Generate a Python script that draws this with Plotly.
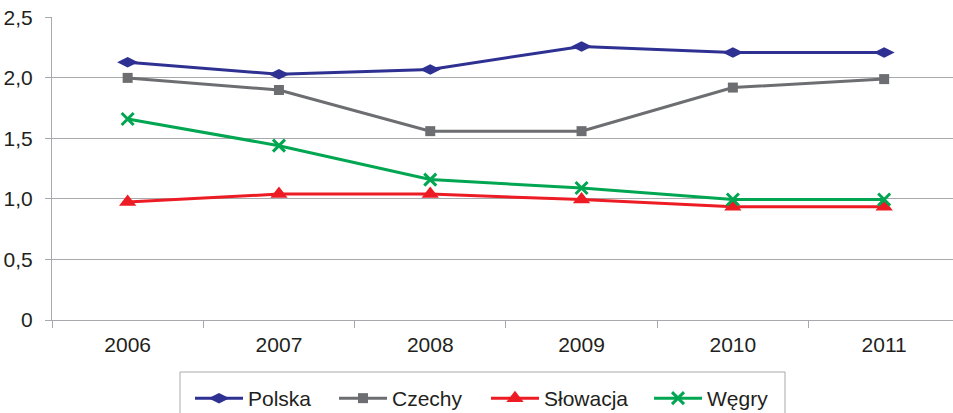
import plotly.graph_objects as go

years = ["2006", "2007", "2008", "2009", "2010", "2011"]
polska = [2.13, 2.03, 2.07, 2.26, 2.21, 2.21]
czechy = [2.00, 1.90, 1.56, 1.56, 1.92, 1.99]
slowacja = [0.975, 1.04, 1.04, 0.995, 0.935, 0.935]
wegry = [1.66, 1.44, 1.16, 1.09, 0.995, 0.995]

ytick_vals = [0, 0.5, 1.0, 1.5, 2.0, 2.5]
ytick_text = ["0", "0,5", "1,0", "1,5", "2,0", "2,5"]

series = [
    ("Polska", polska, "#2E3192", "diamond-wide", 15, None),
    ("Czechy", czechy, "#6D6E71", "square", 10, None),
    ("Słowacja", slowacja, "#ED1C24", "triangle-up", 15, None),
    ("Węgry", wegry, "#00A651", "x-thin", 12, 3),
]

# layout geometry (pixels)
W, H = 953, 413
ML, MT, MB = 52, 17, 93
PW, PH = W - ML, H - MT - MB
def px_x(p):
    return (p - ML) / PW
def px_y(p):
    return (H - MB - p) / PH

legend_px = [190, 334, 486, 649]
legend_names = ["legend", "legend2", "legend3", "legend4"]

fig = go.Figure()
for (name, vals, color, sym, size, lw), lg in zip(series, legend_names):
    marker = dict(symbol=sym, size=size, color=color)
    if lw:
        marker["line"] = dict(width=lw, color=color)
    fig.add_trace(go.Scatter(
        x=years, y=vals, name=name, mode="lines+markers", legend=lg,
        line=dict(color=color, width=3), marker=marker,
    ))

legend_common = dict(
    orientation="h", yanchor="top", y=px_y(378), xanchor="left",
    borderwidth=0, bgcolor="rgba(0,0,0,0)", font=dict(size=21), itemwidth=48,
)
layout_legends = {lg: dict(legend_common, x=px_x(p)) for lg, p in zip(legend_names, legend_px)}

fig.update_layout(
    width=W, height=H,
    margin=dict(l=ML, r=0, t=MT, b=MB, autoexpand=False),
    plot_bgcolor="white", paper_bgcolor="white",
    font=dict(family="Liberation Sans, Arial, sans-serif", size=21, color="#231F20"),
    showlegend=True,
    **layout_legends,
)
fig.add_shape(
    type="rect", xref="paper", yref="paper",
    x0=px_x(180), x1=px_x(785), y0=px_y(372), y1=px_y(430),
    line=dict(color="#A7A9AC", width=1), fillcolor="rgba(0,0,0,0)", layer="below",
)
fig.update_xaxes(
    type="category", range=[-0.5, 5.455], automargin=False,
    showline=True, linecolor="#A7A9AC", linewidth=1,
    ticks="outside", tickson="boundaries", ticklen=7, tickcolor="#A7A9AC",
    showgrid=False, ticklabelstandoff=6,
)
fig.update_yaxes(
    range=[0, 2.503], tickvals=ytick_vals, ticktext=ytick_text, automargin=False,
    showline=True, linecolor="#A7A9AC", linewidth=1,
    ticks="outside", ticklen=6, tickcolor="#A7A9AC",
    showgrid=True, gridcolor="#A7A9AC", gridwidth=1, zeroline=False,
    ticklabelstandoff=8,
)

fig.write_html(
    "out.html",
    config={"displayModeBar": False},
    post_script="document.body.style.margin='0';document.body.style.overflow='hidden';",
)
